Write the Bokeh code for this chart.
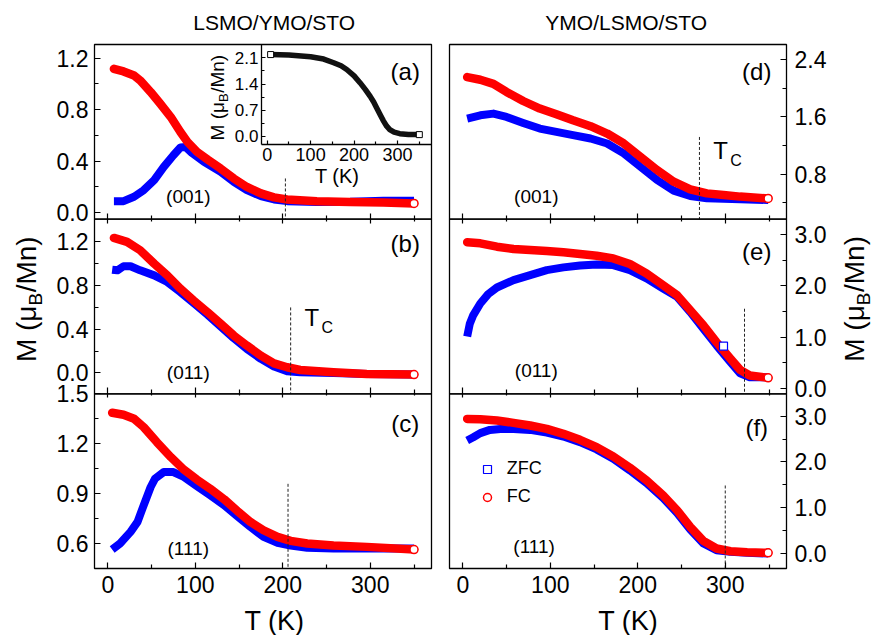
from math import pi
from bokeh.plotting import figure
from bokeh.models import (Range1d, LinearAxis, FixedTicker, Label, Legend, LegendItem,
                          PrintfTickFormatter)
from bokeh.embed import file_html
from bokeh.resources import INLINE

FONT = "Liberation Sans"

# ---------------- data ----------------
# (a) LSMO/YMO/STO (001)
a_T_fc = [7, 18, 30, 37, 49, 60, 72, 83, 91, 102, 114, 129, 144, 159, 175, 190, 205, 239, 277, 315, 350]
a_fc = [1.117, 1.097, 1.066, 1.027, 0.937, 0.846, 0.743, 0.627, 0.55, 0.472, 0.413, 0.343, 0.266, 0.2,
        0.15, 0.119, 0.103, 0.09, 0.083, 0.08, 0.072]
a_T_zfc = [7, 18, 30, 41, 53, 64, 75, 83, 89, 96, 110, 129, 144, 159, 175, 190, 205, 239, 277, 315, 350]
a_zfc = [0.09, 0.09, 0.124, 0.175, 0.253, 0.356, 0.446, 0.506, 0.51, 0.465, 0.395, 0.317, 0.24, 0.175,
         0.129, 0.103, 0.09, 0.083, 0.085, 0.093, 0.093]
# (b) LSMO/YMO/STO (011)
b_T_fc = [7, 22, 37, 53, 68, 83, 98, 114, 129, 144, 159, 175, 190, 205, 220, 258, 296, 350]
b_fc = [1.23, 1.194, 1.118, 0.996, 0.889, 0.768, 0.661, 0.554, 0.448, 0.341, 0.25, 0.158, 0.088, 0.052,
        0.027, 0.006, -0.009, -0.015]
b_T_zfc = [5, 11, 18, 26, 37, 53, 68, 83, 98, 114, 129, 144, 159, 175, 190, 205, 220, 258, 296, 350]
b_zfc = [0.941, 0.935, 0.972, 0.972, 0.935, 0.889, 0.829, 0.737, 0.637, 0.53, 0.423, 0.317, 0.219, 0.128,
         0.058, 0.015, 0.006, 0.0, -0.009, -0.015]
# (c) LSMO/YMO/STO (111)
c_T_fc = [5, 18, 30, 41, 56, 72, 87, 102, 117, 133, 148, 163, 178, 194, 209, 228, 258, 296, 350]
c_fc = [1.386, 1.374, 1.35, 1.30, 1.21, 1.12, 1.044, 0.984, 0.93, 0.866, 0.796, 0.73, 0.68, 0.64, 0.616,
        0.6, 0.588, 0.58, 0.564]
c_T_zfc = [5, 14, 26, 34, 41, 49, 54, 64, 75, 87, 102, 117, 133, 148, 163, 178, 194, 209, 228, 258, 296, 350]
c_zfc = [0.564, 0.6, 0.67, 0.73, 0.83, 0.94, 0.99, 1.03, 1.03, 1.0, 0.944, 0.89, 0.83, 0.764, 0.70, 0.64,
         0.604, 0.588, 0.574, 0.57, 0.57, 0.57]
# (d) YMO/LSMO/STO (001)
d_T_fc = [5, 20, 35, 50, 69, 88, 107, 126, 146, 165, 184, 203, 222, 241, 260, 279, 298, 317, 349]
d_fc = [2.154, 2.117, 2.06, 1.946, 1.82, 1.714, 1.635, 1.55, 1.468, 1.366, 1.227, 1.04, 0.856, 0.693,
        0.587, 0.53, 0.508, 0.485, 0.46]
d_T_zfc = [5, 20, 35, 50, 69, 88, 107, 126, 146, 165, 184, 203, 222, 241, 260, 279, 317, 349]
d_zfc = [1.575, 1.62, 1.644, 1.598, 1.514, 1.435, 1.389, 1.343, 1.296, 1.227, 1.088, 0.902, 0.717, 0.568,
         0.494, 0.461, 0.447, 0.438]
# (e) YMO/LSMO/STO (011)
e_T_fc = [5, 20, 39, 58, 77, 96, 115, 134, 153, 172, 191, 210, 229, 245, 260, 275, 290, 306, 317, 328, 349]
e_fc = [2.856, 2.836, 2.77, 2.725, 2.705, 2.685, 2.659, 2.626, 2.593, 2.54, 2.43, 2.246, 2.016, 1.82,
        1.525, 1.23, 0.90, 0.574, 0.357, 0.246, 0.2]
e_T_zfc = [5, 8, 12, 20, 29, 39, 58, 77, 96, 115, 134, 153, 172, 191, 210, 229, 245, 260, 275, 290, 306,
           317, 328, 349]
e_zfc = [1.01, 1.26, 1.43, 1.656, 1.84, 1.97, 2.115, 2.213, 2.31, 2.364, 2.403, 2.423, 2.41, 2.31, 2.148,
         1.95, 1.787, 1.49, 1.164, 0.836, 0.508, 0.29, 0.21, 0.21]
e_out_T = [298]
e_out_zfc = [0.82]
# (f) YMO/LSMO/STO (111)
f_T_fc = [5, 20, 39, 58, 77, 96, 115, 134, 153, 172, 191, 210, 229, 245, 260, 275, 290, 306, 325, 349]
f_fc = [2.94, 2.934, 2.905, 2.854, 2.796, 2.723, 2.614, 2.484, 2.324, 2.12, 1.874, 1.598, 1.27, 0.944,
        0.58, 0.276, 0.109, 0.05, 0.029, 0.015]
f_T_zfc = [5, 12, 20, 31, 43, 58, 77, 96, 115, 134, 153, 172, 191, 210, 229, 245, 260, 275, 290, 306, 325, 349]
f_zfc = [2.47, 2.54, 2.63, 2.70, 2.72, 2.72, 2.70, 2.64, 2.556, 2.433, 2.273, 2.07, 1.816, 1.54, 1.213,
         0.886, 0.523, 0.218, 0.073, 0.036, 0.015, 0.0]
# inset of (a)
ins_T = [8, 50, 100, 130, 153, 170, 183, 200, 214, 226, 237, 245, 252, 260, 267, 275, 282, 292, 305, 325, 350]
ins_M = [2.19, 2.18, 2.13, 2.07, 1.97, 1.89, 1.79, 1.62, 1.43, 1.25, 1.07, 0.92, 0.76, 0.58, 0.42, 0.27,
         0.18, 0.11, 0.07, 0.05, 0.045]
# Curie-temperature markers (T, top of dashed line)
tc_left_T = [203, 209, 206]
tc_left_top = [0.266, 0.597, 0.959]
tc_right_T = [270.5, 322, 300]
tc_right_top = [1.318, 1.554, 1.486]

# ticks
T_TICKS = [0, 100, 200, 300]
T_MINOR = [50, 150, 250, 350]
AB_TICKS = [0.0, 0.4, 0.8, 1.2]
AB_MINOR = [0.2, 0.6, 1.0]
C_TICKS = [0.6, 0.9, 1.2, 1.5]
C_MINOR = [0.75, 1.05, 1.35]
D_TICKS = [0.8, 1.6, 2.4]
D_MINOR = [0.4, 1.2, 2.0]
EF_TICKS = [0.0, 1.0, 2.0, 3.0]
EF_MINOR = [0.5, 1.5, 2.5]
INS_Y_TICKS = [0.0, 0.7, 1.4, 2.1]
INS_Y_MINOR = [0.35, 1.05, 1.75]

# axis limits
X_LIM = (-15.2, 370)
A_LIM = (-0.05, 1.306)
B_LIM = (-0.19, 1.401)
C_LIM = (0.45, 1.5)
D_LIM = (0.17, 2.609)
E_LIM = (-0.113, 3.309)
F_LIM = (-0.327, 3.488)
IX_LIM = (-13, 378)
IY_LIM = (-0.22, 2.46)

RED = "#ff0000"
BLUE = "#0000ff"

# ---------------- layout of the canvas (pixels) ----------------
W, H = 874, 635
LEFT_BOX = (94, 431)
RIGHT_BOX = (449, 786)
ROWS = (44, 218.67, 393.33, 568)   # top of (a)/(d) ... bottom of (c)/(f)
INSET_BOX = (261, 431, 44, 144)    # left, right, top, bottom
TICK_FS = 23


def xr_for(lim, px0, px1):
    span = (lim[1] - lim[0]) * W / (px1 - px0)
    start = lim[0] - px0 / W * span
    return Range1d(start, start + span)


def yr_for(lim, py_top, py_bottom):
    f0 = (H - py_bottom) / H
    f1 = (H - py_top) / H
    span = (lim[1] - lim[0]) / (f1 - f0)
    start = lim[0] - f0 * span
    return Range1d(start, start + span)


p = figure(width=W, height=H, x_range=Range1d(0, W), y_range=Range1d(0, H),
           x_axis_type=None, y_axis_type=None, toolbar_location=None, output_backend="svg",
           min_border=0)
p.outline_line_color = None
p.background_fill_color = "white"
p.border_fill_color = "white"

p.extra_x_ranges = {"L": xr_for(X_LIM, *LEFT_BOX), "R": xr_for(X_LIM, *RIGHT_BOX),
                    "ix": xr_for(IX_LIM, INSET_BOX[0], INSET_BOX[1])}
p.extra_y_ranges = {"a": yr_for(A_LIM, ROWS[0], ROWS[1]), "b": yr_for(B_LIM, ROWS[1], ROWS[2]),
                    "c": yr_for(C_LIM, ROWS[2], ROWS[3]),
                    "d": yr_for(D_LIM, ROWS[0], ROWS[1]), "e": yr_for(E_LIM, ROWS[1], ROWS[2]),
                    "f": yr_for(F_LIM, ROWS[2], ROWS[3]),
                    "iy": yr_for(IY_LIM, INSET_BOX[2], INSET_BOX[3])}


def style_ticks(ax, tin, mtin, out=0, mout=0):
    ax.major_tick_in = tin
    ax.major_tick_out = out
    ax.minor_tick_in = mtin
    ax.minor_tick_out = mout
    ax.major_tick_line_color = "black"
    ax.minor_tick_line_color = "black"
    ax.major_tick_line_width = 1.2
    ax.minor_tick_line_width = 1.2


def add_y(xr, yr, side, loc, ticks, minor, size=TICK_FS, standoff=6, tin=6, mtin=4,
          bounds=None, line=False):
    ax = LinearAxis(x_range_name=xr, y_range_name=yr, fixed_location=loc,
                    ticker=FixedTicker(ticks=ticks, minor_ticks=minor),
                    formatter=PrintfTickFormatter(format="%.1f"))
    style_ticks(ax, tin, mtin)
    ax.axis_line_color = "black" if line else None
    ax.axis_line_width = 1.3
    ax.major_label_text_font = FONT
    ax.major_label_text_font_size = f"{size}px"
    ax.major_label_text_color = "black"
    ax.major_label_standoff = standoff
    if bounds is not None:
        ax.bounds = bounds
    p.add_layout(ax, side)


def add_x(xr, yr, loc, labels, out, size=TICK_FS, standoff=7, tin=6, mtin=4, bounds=None,
          line=False):
    ax = LinearAxis(x_range_name=xr, y_range_name=yr, fixed_location=loc,
                    ticker=FixedTicker(ticks=T_TICKS, minor_ticks=T_MINOR))
    style_ticks(ax, tin, mtin, out, (out * 3) // 5)
    ax.axis_line_color = "black" if line else None
    ax.axis_line_width = 1.3
    ax.major_label_text_font = FONT
    ax.major_label_text_font_size = f"{size}px"
    ax.major_label_text_color = "black" if labels else None
    ax.major_label_standoff = standoff
    if bounds is not None:
        ax.bounds = bounds
    p.add_layout(ax, "below")


def lab(x, y, text, size, xr, yr, align="center", angle=0.0, xoff=0, yoff=0):
    p.add_layout(Label(x=x, y=y, x_range_name=xr, y_range_name=yr, text=text,
                       text_font=FONT, text_font_size=f"{size}px", text_color="black",
                       text_align=align, text_baseline="middle", angle=angle,
                       x_offset=xoff, y_offset=yoff))


def mlabel(x, y, s, xr, yr):
    """Rotated 'M (μ_B/Mn)' label, reading bottom to top; (x, y) = centre line / start."""
    sub = round(s * 0.68)
    w1 = 2.02 * s
    lab(x, y, "M (μ", s, xr, yr, "left", pi / 2)
    lab(x, y, "B", sub, xr, yr, "left", pi / 2, xoff=0.3 * s, yoff=w1)
    lab(x, y, "/Mn)", s, xr, yr, "left", pi / 2, yoff=w1 + 0.667 * sub + 0.5)


def tc_label(x, y, xr, yr):
    lab(x, y, "T", 24, xr, yr, align="left")
    lab(x, y, "C", 16, xr, yr, align="left", xoff=17, yoff=-10)


def curves(xr, yr, tz, z, tf, f):
    p.line(tz, z, x_range_name=xr, y_range_name=yr, line_color=BLUE, line_width=8,
           line_join="round")
    p.line(tf, f, x_range_name=xr, y_range_name=yr, line_color=RED, line_width=8.5,
           line_join="round", line_cap="round")
    return p.scatter(tf[-1:], f[-1:], x_range_name=xr, y_range_name=yr, marker="circle", size=8,
                     fill_color="white", line_color=RED, line_width=1.5)


def box(xr, yr, lim):
    p.quad(left=[X_LIM[0]], right=[X_LIM[1]], bottom=[lim[0]], top=[lim[1]],
           x_range_name=xr, y_range_name=yr, fill_color=None, line_color="black",
           line_width=1.3)


# ---------------- left column ----------------
curves("L", "a", a_T_zfc, a_zfc, a_T_fc, a_fc)
curves("L", "b", b_T_zfc, b_zfc, b_T_fc, b_fc)
curves("L", "c", c_T_zfc, c_zfc, c_T_fc, c_fc)
for t, top, yr, lim in zip(tc_left_T, tc_left_top, ("a", "b", "c"), (A_LIM, B_LIM, C_LIM)):
    p.segment(x0=[t], y0=[top], x1=[t], y1=[lim[0]], x_range_name="L", y_range_name=yr,
              line_color="#222222", line_width=1, line_dash="3 2")
for yr, lim in (("a", A_LIM), ("b", B_LIM), ("c", C_LIM)):
    box("L", yr, lim)

for yr, tk, mn in (("a", AB_TICKS, AB_MINOR), ("b", AB_TICKS, AB_MINOR), ("c", C_TICKS, C_MINOR)):
    add_y("L", yr, "left", X_LIM[0], tk, mn)
add_x("L", "a", A_LIM[0], False, 4, bounds=X_LIM)
add_x("L", "b", B_LIM[0], False, 4, bounds=X_LIM)
add_x("L", "c", C_LIM[0], True, 0, bounds=X_LIM)

# inset
p.line(ins_T, ins_M, x_range_name="ix", y_range_name="iy", line_color="#111111", line_width=5.5,
       line_join="round")
p.scatter([ins_T[0], ins_T[-1]], [ins_M[0], ins_M[-1]], x_range_name="ix", y_range_name="iy",
          marker="square", size=6, fill_color="white", line_color="black", line_width=1)
add_y("ix", "iy", "left", IX_LIM[0], INS_Y_TICKS, INS_Y_MINOR, size=17, standoff=3,
      tin=4, mtin=3, bounds=IY_LIM, line=True)
add_x("ix", "iy", IY_LIM[0], True, 0, size=18, standoff=3, tin=4, mtin=3, bounds=IX_LIM, line=True)
lab(161, -1.064, "T (K)", 20, "ix", "iy")
mlabel(-114, -0.11, 19, "ix", "iy")

lab(190.2, 1.479, "LSMO/YMO/STO", 21, "L", "a")
lab(340, 1.10, "(a)", 24, "L", "a")
lab(92, 0.124, "(001)", 19, "L", "a")
lab(340, 1.18, "(b)", 24, "L", "b")
lab(92, 0.006, "(011)", 19, "L", "b")
tc_label(224.8, 0.508, "L", "b")
lab(340, 1.32, "(c)", 24, "L", "c")
lab(92, 0.57, "(111)", 19, "L", "c")
mlabel(-92.4, 0.099, 28, "L", "b")
lab(190.5, 0.137, "T (K)", 27, "L", "c")

# ---------------- right column ----------------
curves("R", "d", d_T_zfc, d_zfc, d_T_fc, d_fc)
curves("R", "e", e_T_zfc, e_zfc, e_T_fc, e_fc)
fc_end_f = curves("R", "f", f_T_zfc, f_zfc, f_T_fc, f_fc)
zfc_out = p.scatter(e_out_T, e_out_zfc, x_range_name="R", y_range_name="e", marker="square",
                    size=8, fill_color="white", line_color=BLUE, line_width=1.2)
for t, top, yr, lim in zip(tc_right_T, tc_right_top, ("d", "e", "f"), (D_LIM, E_LIM, F_LIM)):
    p.segment(x0=[t], y0=[top], x1=[t], y1=[lim[0]], x_range_name="R", y_range_name=yr,
              line_color="#222222", line_width=1, line_dash="3 2")
for yr, lim in (("d", D_LIM), ("e", E_LIM), ("f", F_LIM)):
    box("R", yr, lim)

for yr, tk, mn in (("d", D_TICKS, D_MINOR), ("e", EF_TICKS, EF_MINOR), ("f", EF_TICKS, EF_MINOR)):
    add_y("R", yr, "right", X_LIM[1], tk, mn, standoff=8)
add_x("R", "d", D_LIM[0], False, 4, bounds=X_LIM)
add_x("R", "e", E_LIM[0], False, 4, bounds=X_LIM)
add_x("R", "f", F_LIM[0], True, 0, bounds=X_LIM)

lab(186.8, 2.92, "YMO/LSMO/STO", 21, "R", "d")
lab(336, 2.238, "(d)", 24, "R", "d")
lab(84, 0.485, "(001)", 19, "R", "d")
tc_label(286.2, 1.133, "R", "d")
lab(336, 2.67, "(e)", 24, "R", "e")
lab(84, 0.344, "(011)", 19, "R", "e")
lab(336, 2.76, "(f)", 24, "R", "f")
lab(81.5, 0.145, "(111)", 19, "R", "f")
mlabel(447.9, 0.515, 28, "R", "e")
lab(189.0, -1.463, "T (K)", 27, "R", "f")

legend = Legend(items=[LegendItem(label="ZFC", renderers=[zfc_out]),
                       LegendItem(label="FC", renderers=[fc_end_f])],
                location=(476.7, 127.7), border_line_color=None, background_fill_alpha=0,
                padding=0, spacing=7, margin=0, label_standoff=10, glyph_width=20,
                glyph_height=20, label_height=20, label_text_font=FONT,
                label_text_font_size="18px", label_text_color="black")
p.add_layout(legend)

open("out.html", "w").write(file_html(p, INLINE))
